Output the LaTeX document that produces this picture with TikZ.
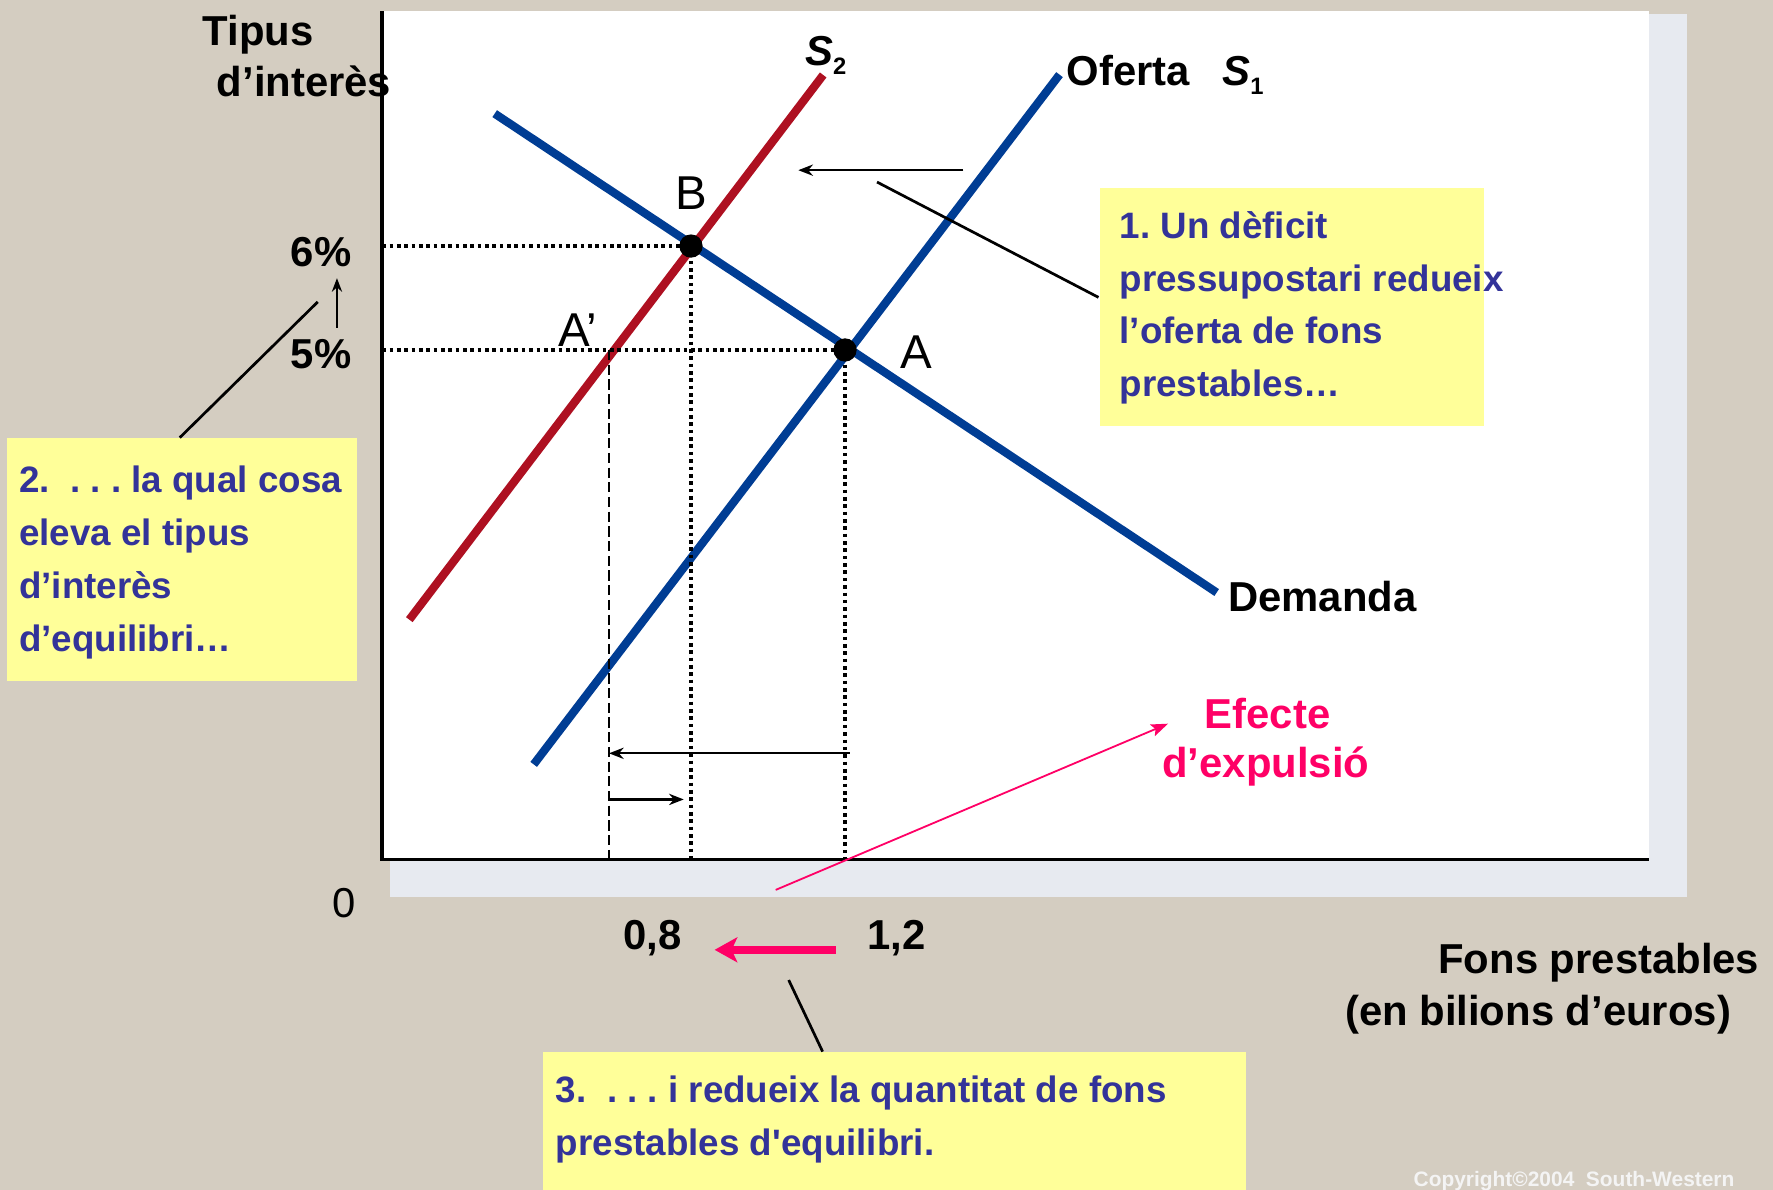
\documentclass[tikz,border=0pt]{standalone}
\usepackage{fontspec}
\setmainfont{Liberation Sans}
\usetikzlibrary{arrows.meta}
\definecolor{bgc}{HTML}{D4CDC1}
\definecolor{shadowc}{HTML}{E7EAF0}
\definecolor{boxyellow}{HTML}{FFFF99}
\definecolor{boxtext}{HTML}{333399}
\definecolor{curveblue}{HTML}{003D94}
\definecolor{curvered}{HTML}{AE1021}
\definecolor{pinkc}{HTML}{FF0066}
\definecolor{copyc}{HTML}{F4F4F4}
\begin{document}
\frenchspacing
\begin{tikzpicture}[x=1pt,y=-1pt,
  curve/.style={line width=7.3pt},
  guide/.style={line width=2.8pt, dash pattern=on 3.2pt off 3.3pt},
  dashguide/.style={line width=1.8pt, dash pattern=on 9pt off 4pt},
  leader/.style={line width=2.4pt},
  thinarrow/.style={line width=2pt,-{Stealth[length=13pt,width=10pt]}},
  lbl/.style={font=\fontsize{37}{44}\selectfont\bfseries, inner sep=0pt, anchor=base west},
  ptlbl/.style={font=\fontsize{42}{50}\selectfont, inner sep=0pt, anchor=base west},
  boxtxt/.style={font=\fontsize{32.5}{47}\selectfont\bfseries, text=boxtext, inner sep=0pt, anchor=base west},
  note/.style={fill=boxyellow, draw=none, inner sep=0pt, anchor=north west},
  eqdot/.style={circle, fill=black, inner sep=0pt, minimum size=20.6pt}
]
\useasboundingbox (0,0) rectangle (1568,1052);
\fill[bgc] (0,0) rectangle (1568,1052);
% panel with shadow
\fill[shadowc] (345,12) rectangle (1492,793);
\fill[white] (338,10) rectangle (1458,760);

% key points
\coordinate (B) at (611.1,217.6);
\coordinate (A) at (747.3,309.5);
\coordinate (Ap) at (538.6,309.5);
\coordinate (y6) at (338,217.6);
\coordinate (y5) at (338,309.5);
\coordinate (xB) at (611.1,760);
\coordinate (xA) at (747.3,760);
\coordinate (xAp) at (538.6,760);

% curves
\coordinate (Dl) at (437.5,100.5);
\coordinate (Dr) at (1076,524);
\coordinate (S1b) at (472,676);
\coordinate (S1t) at (937,66);
\coordinate (S2b) at (362,548);
\coordinate (S2t) at (728,66.3);
\draw[curve, curvered] (S2b) -- (S2t);
\draw[curve, curveblue] (S1b) -- (S1t);
\draw[curve, curveblue] (Dl) -- (Dr);

% guides
\draw[guide] (y6) -- (B);
\draw[guide] (y5) -- (A);
\draw[guide] (B) -- (xB);
\draw[guide] (A) -- (xA);
\draw[dashguide] (Ap) -- (xAp);

% axes
\coordinate (O) at (338,760);
\draw[line width=3pt] (338,10) -- (O) -- (1458,760);

% equilibrium dots
\node[eqdot] (dB) at (B) {};
\node[eqdot] (dA) at (A) {};

% point labels
\node[ptlbl] (lB) at (597,185.7) {B};
\node[ptlbl] (lAp) at (493.6,306.6) {A’};
\node[ptlbl] (lA) at (796,325.5) {A};

% curve labels
\node[lbl] (lS2) at (712,57.5) {\textit{S}\raisebox{-8.5pt}{\fontsize{21}{21}\selectfont 2}};
\node[lbl] (lOf) at (943,76) {Oferta};
\node[lbl] (lS1) at (1081,76) {\textit{S}\raisebox{-8pt}{\fontsize{21}{21}\selectfont 1}};
\node[lbl] (lD) at (1086,541) {Demanda};

% axis labels
\node[lbl] (tip1) at (179,39.8) {Tipus};
\node[lbl] (tip2) at (191.6,85.5) {d’interès};
\node[lbl, anchor=base east] (p6) at (311,236) {6\%};
\node[lbl, anchor=base east] (p5) at (311,325.7) {5\%};
\coordinate (r5) at (298,290);
\coordinate (r6) at (298,246);
\draw[line width=2pt,-{Stealth[length=12pt,width=9pt]}] (r5) -- (r6);
\node[font=\fontsize{37}{44}\selectfont, inner sep=0pt, anchor=base] (zero) at (304.5,811) {0};
\node[lbl] (q08) at (551,840) {0,8};
\node[lbl] (q12) at (767,840) {1,2};
\coordinate (pa1) at (739,840);
\coordinate (pa2) at (632,840);
\draw[pinkc, line width=7.4pt, -{Stealth[length=20pt,width=22pt,inset=5pt]}] (pa1) -- (pa2);
\node[lbl, anchor=base east] (fons1) at (1556,860.7) {Fons prestables};
\node[lbl, anchor=base east] (fons2) at (1531,906.5) {(en bilions d’euros)};

% shift arrows
\coordinate (ta1) at (852,150.5);
\coordinate (ta2) at (706,150.5);
\draw[thinarrow] (ta1) -- (ta2);
\coordinate (ba1) at (751.7,666.2);
\coordinate (ba2) at (538.6,666.2);
\draw[thinarrow] (ba1) -- (ba2);
\coordinate (bb1) at (538.6,707);
\coordinate (bb2) at (604.7,707);
\draw[thinarrow] (bb1) -- (bb2);

% Efecte d'expulsio
\node[lbl, anchor=base, text=pinkc] (ef1) at (1121,644) {Efecte};
\node[lbl, anchor=base, text=pinkc] (ef2) at (1119.5,688) {d’expulsió};
\coordinate (ea1) at (686,787);
\coordinate (ea2) at (1033,640);
\draw[pinkc, line width=1.6pt, -{Stealth[length=15pt,width=11pt,inset=3pt]}] (ea1) -- (ea2);

% note boxes
\node[note, minimum width=339.6pt, minimum height=210.9pt] (box1) at (972.4,165.7) {};
\node[boxtxt] (t1) at (990,210.8) {\vtop{\baselineskip=46.7pt\hbox{1. Un dèficit}\hbox{pressupostari redueix}\hbox{l’oferta de fons}\hbox{prestables…}}};
\coordinate (l1a) at (775.6,161);
\coordinate (l1b) at (971.5,263);
\draw[leader] (l1a) -- (l1b);

\node[note, minimum width=309.2pt, minimum height=215pt] (box2) at (6.4,387) {};
\node[boxtxt] (t2) at (16.8,435.4) {\vtop{\baselineskip=47pt\hbox{2.~~. . . la qual cosa}\hbox{eleva el tipus}\hbox{d’interès}\hbox{d’equilibri…}}};
\coordinate (l2a) at (159,387);
\coordinate (l2b) at (281,267);
\draw[leader] (l2a) -- (l2b);

\node[note, minimum width=622pt, minimum height=125pt] (box3) at (480,930) {};
\node[boxtxt] (t3) at (491.5,975.2) {\vtop{\baselineskip=46.3pt\hbox{3.~~. . . i redueix la quantitat de fons}\hbox{prestables d\textquotesingle equilibri.}}};
\coordinate (l3a) at (697.5,866.7);
\coordinate (l3b) at (727.5,930);
\draw[leader] (l3a) -- (l3b);

% copyright
\node[font=\fontsize{18.5}{20}\selectfont\bfseries, text=copyc, inner sep=0pt, anchor=base west] (copy) at (1250,1049.5) {Copyright©2004~~South-Western};
\end{tikzpicture}
\end{document}
